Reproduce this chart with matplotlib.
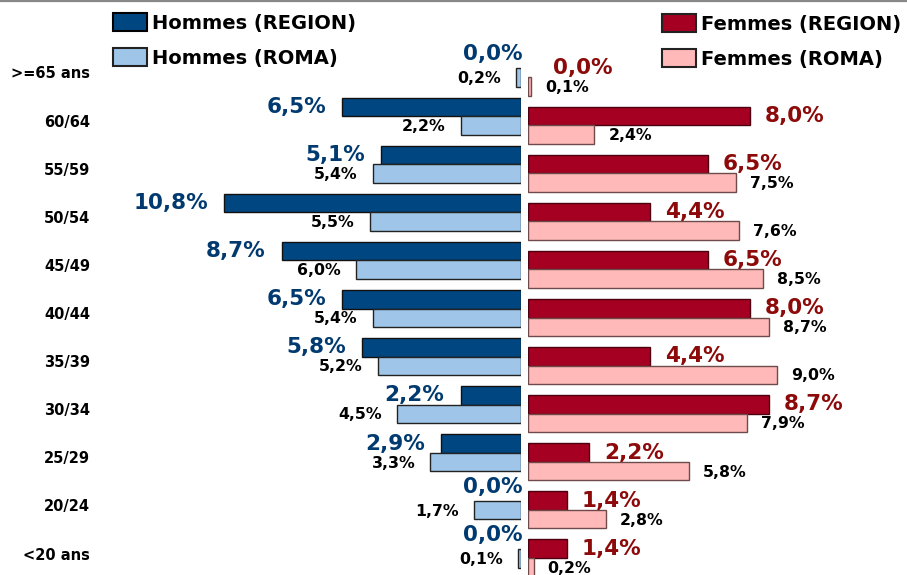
import matplotlib
matplotlib.use("Agg")
import matplotlib.pyplot as plt
from matplotlib.patches import Patch
from matplotlib.lines import Line2D
from matplotlib.transforms import ScaledTranslation
import numpy as np

categories = [">=65 ans", "60/64", "55/59", "50/54", "45/49", "40/44",
              "35/39", "30/34", "25/29", "20/24", "<20 ans"]
hommes_region = [0.0, 6.5, 5.1, 10.8, 8.7, 6.5, 5.8, 2.2, 2.9, 0.0, 0.0]
hommes_roma = [0.2, 2.2, 5.4, 5.5, 6.0, 5.4, 5.2, 4.5, 3.3, 1.7, 0.1]
femmes_region = [0.0, 8.0, 6.5, 4.4, 6.5, 8.0, 4.4, 8.7, 2.2, 1.4, 1.4]
femmes_roma = [0.1, 2.4, 7.5, 7.6, 8.5, 8.7, 9.0, 7.9, 5.8, 2.8, 0.2]

plt.rcParams['font.family'] = ['DejaVu Sans']

W, H = 907, 575
fig = plt.figure(figsize=(W / 100, H / 100), dpi=100)

def px_axes(x0, y0, x1, y1):
    return fig.add_axes([x0 / W, 1 - y1 / H, (x1 - x0) / W, (y1 - y0) / H])

row = 48.1
n = len(categories)
xmax = 12
# left (men) axis: zero at x=521
ax_m = px_axes(521 - xmax * 27.5, 68 - row / 2, 521, 68 + row * (n - 0.5))
# right (women) axis: zero at x=528, shifted down
ax_f = px_axes(528, 77 - row / 2, 528 + xmax * 27.7, 77 + row * (n - 0.5))

y = np.arange(n)
bh = 0.385

c_m_reg, c_m_roma = '#004680', '#9fc5e8'
c_f_reg, c_f_roma = '#a50021', '#ffb9b9'
lab_m, lab_f = '#003a70', '#8c0a0a'

def lws(vals):
    return [1 if v > 0 else 0 for v in vals]

ax_m.barh(y - bh / 2, hommes_region, height=bh, color=c_m_reg, edgecolor='#111111',
          linewidth=lws(hommes_region))
ax_m.barh(y + bh / 2, hommes_roma, height=bh, color=c_m_roma, edgecolor='#222222',
          linewidth=lws(hommes_roma))
ax_f.barh(y - bh / 2, femmes_region, height=bh, color=c_f_reg, edgecolor='#4a0010',
          linewidth=lws(femmes_region))
ax_f.barh(y + bh / 2, femmes_roma, height=bh, color=c_f_roma, edgecolor='#6e4a4a',
          linewidth=lws(femmes_roma))

for ax in (ax_m, ax_f):
    ax.set_ylim(n - 0.5, -0.5)
    ax.set_xlim(0, xmax)
    for s in ax.spines.values():
        s.set_visible(False)
    ax.set_xticks([])
    ax.patch.set_alpha(0)
ax_m.invert_xaxis()
ax_f.set_yticks([])

# category labels
ax_m.set_yticks(y)
ax_m.set_yticklabels(categories, fontsize=10.5, fontweight='bold')
ax_m.tick_params(axis='y', length=0, pad=(521 - xmax * 27.5 - 90) * 0.72)
for lab in ax_m.get_yticklabels():
    lab.set_transform(lab.get_transform() + ScaledTranslation(0, -4.5 / 100, fig.dpi_scale_trans))

def fmt(v):
    return f"{v:.1f}%".replace('.', ',')

big, small = 15.5, 11.3
for i in range(n):
    v = hommes_region[i]
    if v == 0:
        ax_m.annotate(fmt(v), (v, i - bh / 2), xytext=(2, 5), textcoords='offset pixels',
                      ha='right', va='center', fontsize=big, fontweight='bold', color=lab_m)
    else:
        ax_m.annotate(fmt(v), (v, i - bh / 2), xytext=(-16, 0), textcoords='offset pixels',
                      ha='right', va='center', fontsize=big, fontweight='bold', color=lab_m)
    v = hommes_roma[i]
    ax_m.annotate(fmt(v), (v, i + bh / 2), xytext=(-15, -1), textcoords='offset pixels',
                  ha='right', va='center', fontsize=small, fontweight='bold', color='black')
    v = femmes_region[i]
    off = 25 if v == 0 else 15
    ax_f.annotate(fmt(v), (v, i - bh / 2), xytext=(off, 0), textcoords='offset pixels',
                  ha='left', va='center', fontsize=big, fontweight='bold', color=lab_f)
    v = femmes_roma[i]
    ax_f.annotate(fmt(v), (v, i + bh / 2), xytext=(14, -1), textcoords='offset pixels',
                  ha='left', va='center', fontsize=small, fontweight='bold', color='black')

# legends
legfs = 14
leg_kw = dict(frameon=False, handlelength=1.75, handleheight=1.05,
              handletextpad=0.25, labelspacing=0.8, borderpad=0, borderaxespad=0,
              loc='upper left', prop={'weight': 'bold', 'size': legfs})
hm = [Patch(facecolor=c_m_reg, edgecolor='black', lw=1.5),
      Patch(facecolor=c_m_roma, edgecolor='#222222', lw=1.5)]
hf = [Patch(facecolor=c_f_reg, edgecolor='#222222', lw=1.5),
      Patch(facecolor=c_f_roma, edgecolor='#222222', lw=1.5)]
fig.legend(hm, ["Hommes (REGION)", "Hommes (ROMA)"],
           bbox_to_anchor=(113 / W, 1 - 13 / H), **leg_kw)
fig.legend(hf, ["Femmes (REGION)", "Femmes (ROMA)"],
           bbox_to_anchor=(662 / W, 1 - 14 / H), **leg_kw)

fig.add_artist(Line2D([0, 1], [1 - 0.8 / H, 1 - 0.8 / H], transform=fig.transFigure,
                      color='#888888', lw=1.6))

fig.savefig("out.png", dpi=100)
